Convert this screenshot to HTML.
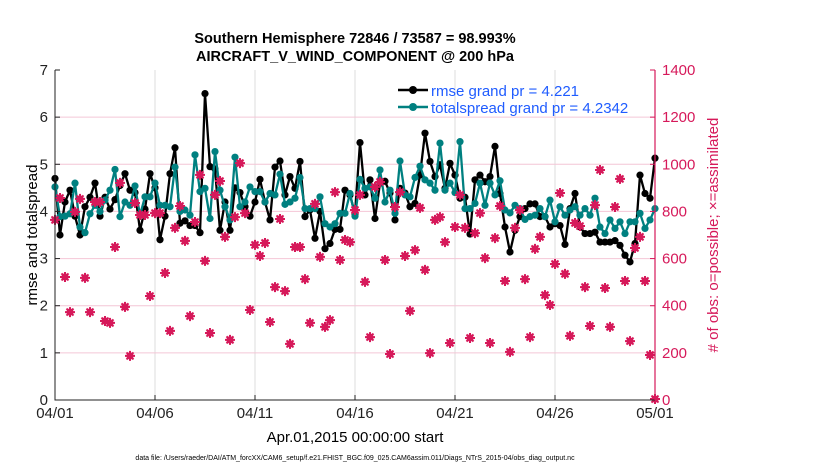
<!DOCTYPE html>
<html><head><meta charset="utf-8"><style>
body{margin:0;background:#fff;}
svg text{font-family:"Liberation Sans",Arial,sans-serif;}
</style></head><body>
<svg id="chart" width="830" height="470" viewBox="0 0 830 470" xmlns="http://www.w3.org/2000/svg">
<rect width="830" height="470" fill="#fff"/>
<text x="355" y="43" text-anchor="middle" font-size="14.5" font-weight="bold">Southern Hemisphere 72846 / 73587 = 98.993%</text>
<text x="355" y="61" text-anchor="middle" font-size="14.5" font-weight="bold">AIRCRAFT_V_WIND_COMPONENT @ 200 hPa</text>
<g id="grid"></g>
<g id="lines"></g>
<g id="obs"></g>
<g id="axes"></g>
<text transform="translate(37,235) rotate(-90)" text-anchor="middle" font-size="15">rmse and totalspread</text>
<text transform="translate(718,235) rotate(-90)" text-anchor="middle" font-size="15" fill="#d6195a"># of obs: o=possible; ×=assimilated</text>
<text x="355" y="442" text-anchor="middle" font-size="15">Apr.01,2015 00:00:00 start</text>
<text x="355" y="460" text-anchor="middle" font-size="7">data file: /Users/raeder/DAI/ATM_forcXX/CAM6_setup/f.e21.FHIST_BGC.f09_025.CAM6assim.011/Diags_NTrS_2015-04/obs_diag_output.nc</text>
<g id="legend">
  <line x1="398" y1="90" x2="428" y2="90" stroke="#000" stroke-width="2.5"/>
  <circle cx="413" cy="90" r="4" fill="#000"/>
  <text x="431" y="96" font-size="15" fill="#1f5cff">rmse grand pr = 4.221</text>
  <line x1="398" y1="107" x2="428" y2="107" stroke="#008080" stroke-width="2.5"/>
  <circle cx="413" cy="107" r="4" fill="#008080"/>
  <text x="431" y="113" font-size="15" fill="#1f5cff">totalspread grand pr = 4.2342</text>
</g>
</svg>
<script>
const rmse = [4.7,3.5,4.2,4.45,3.9,3.5,4.1,4.3,4.6,3.9,4.3,4.05,4.25,4.55,4.8,4.45,4.4,3.6,4.05,4.8,4.5,3.4,3.9,4.8,5.35,3.75,3.8,3.7,3.7,3.55,6.5,4.95,4.9,3.6,4.2,3.6,4.5,4.4,4.1,3.9,4.2,
4.68,4.2,3.82,4.94,5.07,4.35,4.74,4.49,5.06,3.89,4.03,3.43,4.0,3.21,3.32,3.62,3.62,4.45,4.35,3.95,5.46,4.35,4.67,3.85,4.6,4.64,4.39,3.82,4.49,4.39,4.1,4.17,4.77,5.66,5.06,4.74,4.99,4.49,5.02,4.77,4.28,
4.3,3.52,4.67,4.77,4.63,4.74,5.38,4.38,3.67,3.14,3.6,3.89,4.06,4.16,4.16,3.89,3.89,3.67,3.74,3.7,3.3,4.06,4.38,3.67,3.53,3.53,3.56,3.35,3.35,3.35,3.38,3.28,3.07,2.93,3.32,4.77,4.38,4.28,5.13];
const spread = [4.52,3.89,3.9,3.95,4.6,3.67,3.55,3.95,4.13,4.0,4.24,4.45,4.89,3.89,4.2,4.13,4.54,3.92,4.31,4.31,4.6,4.13,4.13,4.1,4.94,4.0,4.03,3.92,5.2,4.42,4.49,3.85,5.27,4.45,4.1,3.82,5.15,4.1,4.2,4.52,4.42,
4.42,4.2,4.38,4.35,4.79,4.15,4.2,4.28,4.72,4.06,4.06,4.06,4.31,3.74,3.67,3.74,3.96,3.96,4.38,3.9,4.68,4.49,4.52,4.28,4.88,4.2,4.45,3.96,5.07,4.35,4.31,4.72,4.96,4.67,4.6,4.45,5.45,4.45,4.6,4.4,5.48,
4.06,4.06,4.17,4.6,4.13,4.6,4.35,4.65,4.03,3.97,4.13,4.06,3.83,3.89,3.92,4.06,3.89,4.24,3.78,4.1,3.92,4.03,4.1,3.92,4.06,3.92,4.28,3.67,3.53,3.82,3.64,3.78,3.53,3.78,3.78,3.96,3.64,3.82,4.06];
const obsCount = [764,857,522,373,798,853,518,373,840,840,335,327,649,921,395,187,836,785,785,441,793,793,539,293,730,823,675,356,755,955,590,284,870,929,692,255,776,1005,793,382,658,611,666,331,479,768,462,238,649,649,513,327,832,607,310,339,882,594,679,
670,806,870,501,267,904,925,594,195,819,882,611,378,636,815,552,199,764,776,670,242,734,870,730,263,708,793,602,242,687,823,505,204,730,806,513,267,641,692,445,403,577,878,535,272,751,738,479,314,827,976,475,310,819,938,505,250,645,692,505,191,4];
const yTicks = [0,1,2,3,4,5,6,7];
const y2Ticks = [0,200,400,600,800,1000,1200,1400];
const xTickDays = [0,5,10,15,20,25,30];
const xTickLabels = ["04/01","04/06","04/11","04/16","04/21","04/26","05/01"];

const NS="http://www.w3.org/2000/svg";
const L=55,R=655,T=70,B=400,DAYS=30;
const xs=d=>L+(d/DAYS)*(R-L);
const ys=v=>B-(v/7)*(B-T);
const ys2=v=>B-(v/1400)*(B-T);
function mk(tag,attrs,parent){const e=document.createElementNS(NS,tag);for(const k in attrs)e.setAttribute(k,attrs[k]);parent.appendChild(e);return e;}
const grid=document.getElementById('grid'),axes=document.getElementById('axes'),obsG=document.getElementById('obs'),linesG=document.getElementById('lines');
const PINK="#d6195a";

xTickDays.forEach((d,i)=>{
  const g=mk('line',{x1:xs(d),x2:xs(d),y1:T,y2:B,stroke:'#dcdcdc','stroke-width':1},grid);
  
  
  const tk=mk('line',{x1:xs(d),x2:xs(d),y1:B,y2:B-5,stroke:'#222','stroke-width':1},axes);
  
  
  const t=mk('text',{x:xs(d),y:B+18,'text-anchor':'middle','font-size':15,fill:'#222'},axes);
  t.textContent=xTickLabels[i];
  
  
});
yTicks.forEach(v=>{
  if(v>0&&v<7){const g=mk('line',{x1:L,x2:R,y1:ys(v),y2:ys(v),stroke:'#f4c6d6','stroke-width':1},grid);
  
  }
  const tk=mk('line',{x1:L,x2:L+5,y1:ys(v),y2:ys(v),stroke:'#222'},axes);
  
  
  const t=mk('text',{x:L-7,y:ys(v)+5,'text-anchor':'end','font-size':15,fill:'#222'},axes);
  t.textContent=v;
  
  
});
y2Ticks.forEach(v=>{
  const tk=mk('line',{x1:R,x2:R-5,y1:ys2(v),y2:ys2(v),stroke:PINK},axes);
  
  
  const t=mk('text',{x:R+7,y:ys2(v)+5,'text-anchor':'start','font-size':15,fill:PINK},axes);
  t.textContent=v;
  
  
});
const ax=mk('path',{d:`M${L},${T}V${B}H${R}`,fill:'none',stroke:'#222','stroke-width':1},axes);


const ax2=mk('line',{x1:R,x2:R,y1:T,y2:B,stroke:PINK,'stroke-width':1.2},axes);



function series(arr,color,name){
  const pts=arr.map((v,i)=>[xs(i*DAYS/(arr.length-1)),ys(v)]);
  const p=mk('polyline',{points:pts.map(p=>p.join(',')).join(' '),fill:'none',stroke:color,'stroke-width':2.3,'stroke-linejoin':'round'},linesG);
  
  
  pts.forEach(q=>{
    const c=mk('circle',{cx:q[0],cy:q[1],r:3.6,fill:color},linesG);
    
    
  });
}
series(rmse,'#000','rmse');
series(spread,'#008080','totalspread');

obsCount.forEach((v,i)=>{
  const x=xs(i*DAYS/(obsCount.length-1)),y=ys2(v);
  const a=mk('path',{d:`M${x-5},${y}H${x+5}M${x},${y-5}V${y+5}M${x-3.5},${y-3.5}L${x+3.5},${y+3.5}M${x-3.5},${y+3.5}L${x+3.5},${y-3.5}`,stroke:PINK,'stroke-width':2},obsG);
  
  
  const d=mk('circle',{cx:x,cy:y,r:3.6,fill:PINK},obsG);
  
  
});
</script>
</body></html>
